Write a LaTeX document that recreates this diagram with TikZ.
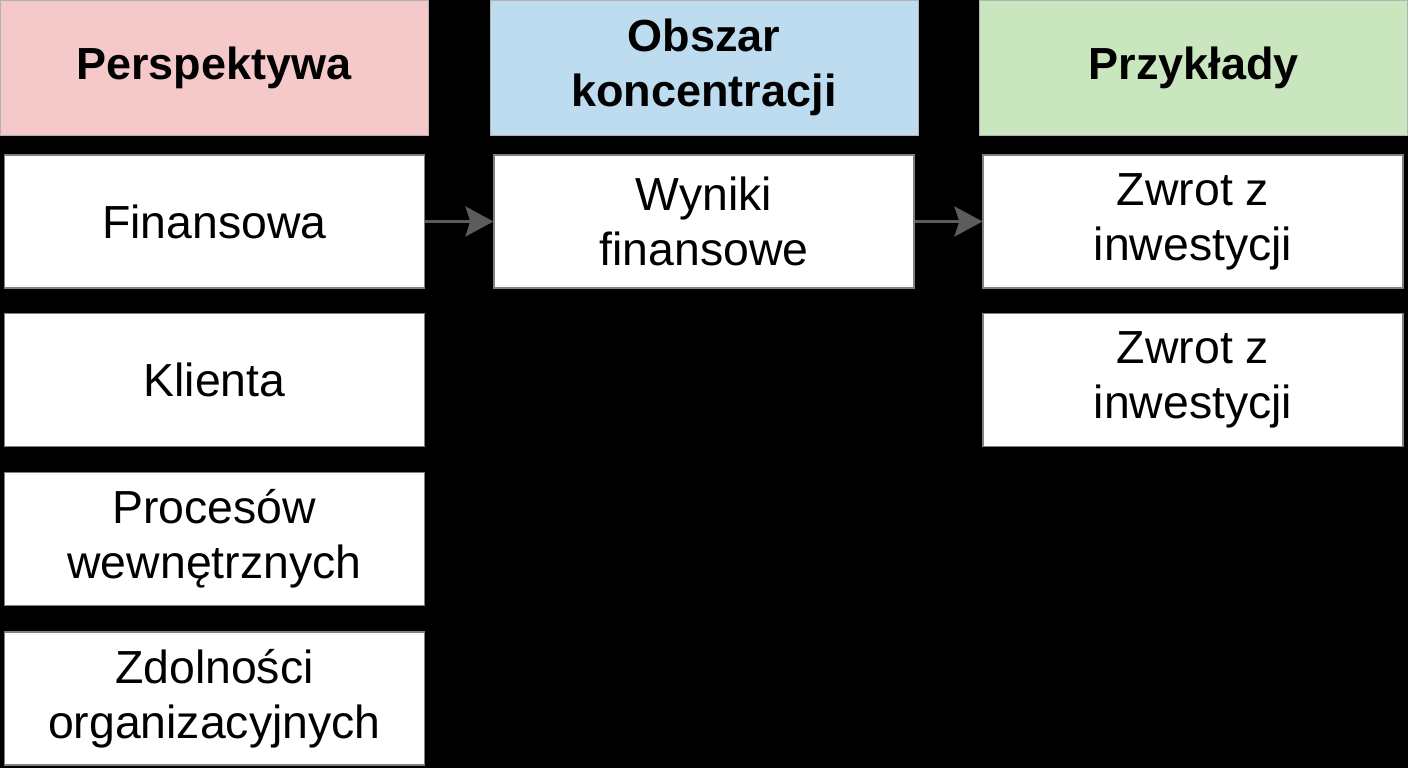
\documentclass[tikz,border=0pt]{standalone}
\usepackage{fontspec}
\setmainfont{Liberation Sans}
\usepackage{tikz}
\usetikzlibrary{arrows.meta}
\definecolor{headpink}{HTML}{F5C9C9}
\definecolor{headblue}{HTML}{BEDCF0}
\definecolor{headgreen}{HTML}{C9E6BF}
\definecolor{arrowgray}{HTML}{5C5C5C}
\tikzset{flow/.style={draw=arrowgray, line width=2.2pt, -{Stealth[length=7mm, width=7.5mm, inset=1.2mm]}}}

\begin{document}
\begin{tikzpicture}[scale=1]
	% Default action for each node
	\tikzstyle{every node}=[shape=rectangle, inner sep=0pt, align=center];
	\tikzstyle{head}=[draw=gray!60, minimum width=10.7cm, minimum height=3.375cm, font=\fontsize{32}{39}\selectfont\bfseries];
	\tikzstyle{cell}=[draw=gray, line width=0.8pt, fill=white, minimum width=10.5cm, minimum height=3.325cm, font=\fontsize{33}{39}\selectfont];

	% Background
	\fill[black] (0,0) rectangle (35.2,-19.2);
	\useasboundingbox (0,0) rectangle (35.2,-19.2);

	% Headers
	\node[head, fill=headpink] (hpersp) at (5.35,-1.6875) {Perspektywa};
	\node[head, fill=headblue] (hobsz) at (17.6,-1.6875) {Obszar\\koncentracji};
	\node[head, fill=headgreen] (hprzyk) at (29.84,-1.6875) {Przykłady};

	% Perspektywa
	\node[cell] (finans) at (5.36,-5.5375) {Finansowa};
	\node[cell] (klient) at (5.36,-9.5) {Klienta};
	\node[cell] (proces) at (5.36,-13.475) {Procesów\\wewnętrznych};
	\node[cell] (zdoln) at (5.36,-17.4625) {Zdolności\\organizacyjnych};

	% Obszar koncentracji
	\node[cell] (wyniki) at (17.6,-5.5375) {Wyniki\\finansowe};

	% Przyklady
	\node[cell] (zwrot1) at (29.825,-5.5375) {Zwrot z\\inwestycji};
	\node[cell] (zwrot2) at (29.825,-9.5) {Zwrot z\\inwestycji};

	% Arrows
	\draw[flow] (finans) -- (wyniki);
	\draw[flow] (wyniki) -- (zwrot1);
\end{tikzpicture}
\end{document}
